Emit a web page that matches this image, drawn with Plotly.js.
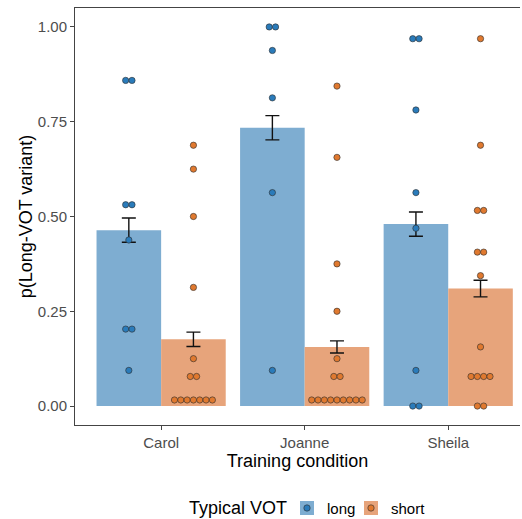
<!DOCTYPE html>
<html>
<head>
<meta charset="utf-8">
<script src="https://cdn.plot.ly/plotly-3.0.1.min.js"></script>
<style>html,body{margin:0;padding:0;background:#fff;overflow:hidden}</style>
</head>
<body>
<div id="chart" style="width:522px;height:519px"></div>
<script>
// ---- Data ----
const categories = ["Carol", "Joanne", "Sheila"];
const seriesNames = ["long", "short"];

const meanLong  = [0.464, 0.734, 0.480];
const meanShort = [0.176, 0.156, 0.310];
const seLong    = [0.032, 0.032, 0.032];
const seShort   = [0.019, 0.016, 0.022];

const carolLong   = [0.859, 0.859, 0.531, 0.531, 0.438, 0.203, 0.203, 0.094];
const carolShort  = [0.688, 0.625, 0.500, 0.313, 0.125, 0.078, 0.078,
                     0.016, 0.016, 0.016, 0.016, 0.016, 0.016, 0.016];
const joanneLong  = [1.000, 1.000, 0.938, 0.813, 0.563, 0.094];
const joanneShort = [0.844, 0.656, 0.375, 0.250, 0.125, 0.078, 0.078,
                     0.016, 0.016, 0.016, 0.016, 0.016, 0.016, 0.016, 0.016, 0.016];
const sheilaLong  = [0.969, 0.969, 0.781, 0.563, 0.469, 0.094, 0.000, 0.000];
const sheilaShort = [0.969, 0.688, 0.516, 0.516, 0.406, 0.406, 0.344, 0.156,
                     0.078, 0.078, 0.078, 0.078, 0.000, 0.000];

const pointsLong  = [carolLong, joanneLong, sheilaLong];
const pointsShort = [carolShort, joanneShort, sheilaShort];

// ---- Styles ----
const barColors = {long: "#7eadd1", short: "#e7a47b"};
const dotColors = {long: "#2a7bba", short: "#e0792f"};
const FONT = '"Liberation Sans", Arial, Helvetica, sans-serif';
const dodge = 0.225;      // half of a dodged bar width
const dotStep = 0.044;    // horizontal spacing of stacked dots (x units)

// stack equal values side by side, centred on the dodge position
function dotXY(groups, sign) {
  const xs = [], ys = [];
  groups.forEach((vals, i) => {
    const counts = {};
    vals.forEach(v => { counts[v] = (counts[v] || 0) + 1; });
    const seen = {};
    vals.forEach(v => {
      const n = counts[v];
      const k = seen[v] || 0;
      seen[v] = k + 1;
      xs.push(i + sign * dodge + (k - (n - 1) / 2) * dotStep);
      ys.push(v);
    });
  });
  return {x: xs, y: ys};
}

const catIdx = categories.map((c, i) => i);
const dl = dotXY(pointsLong, -1);
const ds = dotXY(pointsShort, 1);

const errStyle = {type: "data", color: "#111", thickness: 1.4, width: 7};

const traces = [
  {type: "bar", x: catIdx, y: meanLong, name: seriesNames[0],
   marker: {color: barColors.long, line: {width: 0}},
   error_y: Object.assign({array: seLong}, errStyle), showlegend: false},
  {type: "bar", x: catIdx, y: meanShort, name: seriesNames[1],
   marker: {color: barColors.short, line: {width: 0}},
   error_y: Object.assign({array: seShort}, errStyle), showlegend: false},
  {type: "scatter", mode: "markers", x: dl.x, y: dl.y, showlegend: false,
   marker: {size: 6.3, color: dotColors.long, line: {color: "#2b2b2b", width: 0.6}}},
  {type: "scatter", mode: "markers", x: ds.x, y: ds.y, showlegend: false,
   marker: {size: 6.3, color: dotColors.short, line: {color: "#2b2b2b", width: 0.6}}}
];

// ---- custom legend (pixel -> paper helpers) ----
const W = 522, H = 519, mL = 75, mR = 2, mT = 8, mB = 94;
const px = x => (x - mL) / (W - mL - mR);
const py = y => (H - mB - y) / (H - mT - mB);
const legY = 508;
const shapes = [], annotations = [];
annotations.push({xref: "paper", yref: "paper", x: px(187), y: py(legY), xanchor: "left", yanchor: "middle",
  text: "Typical VOT", showarrow: false, font: {family: FONT, size: 18, color: "#000"}});
[[300, "long"], [364, "short"]].forEach(([x0, s]) => {
  shapes.push({type: "rect", xref: "paper", yref: "paper", x0: px(x0), x1: px(x0 + 14),
    y0: py(legY - 7), y1: py(legY + 7), fillcolor: barColors[s], line: {width: 0}});
  shapes.push({type: "circle", xref: "paper", yref: "paper", x0: px(x0 + 3.8), x1: px(x0 + 10.2),
    y0: py(legY - 3.2), y1: py(legY + 3.2), fillcolor: dotColors[s], line: {color: "#2b2b2b", width: 0.6}});
  annotations.push({xref: "paper", yref: "paper", x: px(x0 + 25), y: py(legY), xanchor: "left", yanchor: "middle",
    text: s, showarrow: false, font: {family: FONT, size: 15, color: "#000"}});
});

const layout = {
  width: W, height: H,
  margin: {l: mL, r: mR, t: mT, b: mB},
  paper_bgcolor: "#fff", plot_bgcolor: "#fff",
  barmode: "group", bargap: 0.1, bargroupgap: 0,
  font: {family: FONT},
  xaxis: {
    range: [-0.6, 2.5], tickvals: catIdx, ticktext: categories,
    showgrid: false, zeroline: false, showline: true, mirror: true,
    linecolor: "#444", linewidth: 1, ticks: "outside", ticklen: 4, tickcolor: "#444",
    tickfont: {family: FONT, size: 15, color: "#4d4d4d"},
    title: {text: "Training condition", font: {family: FONT, size: 18, color: "#000"}, standoff: 3}
  },
  yaxis: {
    range: [-0.05, 1.05], tickvals: [0, 0.25, 0.5, 0.75, 1], ticktext: ["0.00", "0.25", "0.50", "0.75", "1.00"],
    showgrid: false, zeroline: false, showline: true,
    linecolor: "#444", linewidth: 1, ticks: "outside", ticklen: 4, tickcolor: "#444",
    tickfont: {family: FONT, size: 15, color: "#4d4d4d"},
    title: {text: "p(Long-VOT variant)", font: {family: FONT, size: 18, color: "#000"}, standoff: 0}
  },
  shapes: shapes, annotations: annotations, showlegend: false
};

Plotly.newPlot("chart", traces, layout, {displayModeBar: false, staticPlot: true});
</script>
</body>
</html>
